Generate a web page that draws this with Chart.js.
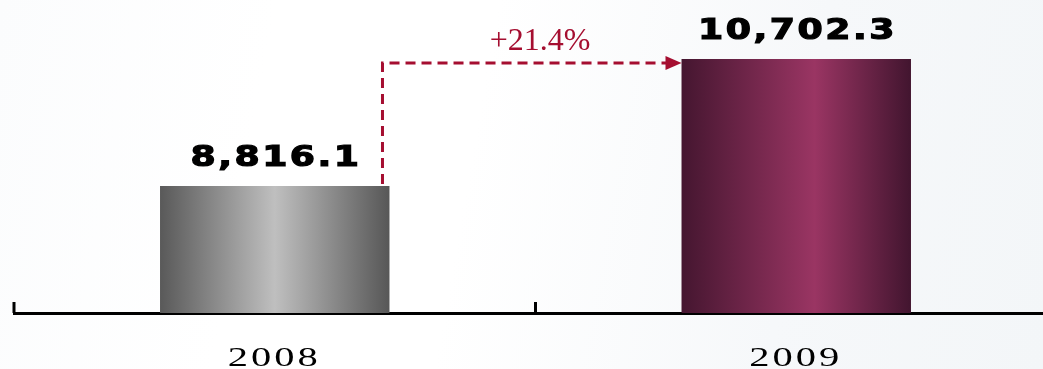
<!DOCTYPE html>
<html>
<head>
<meta charset="utf-8">
<script src="https://cdn.jsdelivr.net/npm/chart.js@4.4.1/dist/chart.umd.min.js"></script>
<style>
  html, body { margin: 0; padding: 0; overflow: hidden; }
  body {
    width: 1043px; height: 369px;
    background: linear-gradient(100deg, #fbfcfd 0%, #ffffff 25%, #ffffff 45%, #f6f8fa 75%, #f3f6f8 100%);
  }
  #wrap { position: relative; width: 1057px; height: 369px; }
</style>
</head>
<body>
<div id="wrap"><canvas id="grafico"></canvas></div>
<script>
// Valores por ano
const anos = ['2008', '2009'];
const valores = [8816.1, 10702.3];
// Limites do eixo Y (o eixo não começa em zero)
const yMin = 6930;
const yMax = 11580;

const corSeta = '#a50e30';

function gradienteBarra(ctx, x0, x1, stops) {
    const g = ctx.createLinearGradient(x0, 0, x1, 0);
    stops.forEach(s => g.addColorStop(s[0], s[1]));
    return g;
}

const stopsCinza = [[0, '#595959'], [0.5, '#bfbfbf'], [1, '#575757']];
const stopsVinho = [[0, '#451630'], [0.58, '#9a3563'], [1, '#42152f']];

function corBarra(context) {
    const chart = context.chart;
    if (!chart.chartArea || !chart.scales.x) return '#999';
    const escala = chart.scales.x;
    const larg = (escala.width / anos.length) * 0.44;
    const cx = escala.getPixelForValue(context.dataIndex);
    const stops = context.dataIndex === 0 ? stopsCinza : stopsVinho;
    return gradienteBarra(chart.ctx, cx - larg / 2, cx + larg / 2, stops);
}

const fmt = v => v.toLocaleString('en-US', { minimumFractionDigits: 1, maximumFractionDigits: 1 });

// Texto com espaçamento entre letras, centrado em cx
function textoEspacado(ctx, txt, cx, y, espaco, escalaX, contorno) {
    ctx.save();
    ctx.letterSpacing = espaco + 'px';
    const w = (ctx.measureText(txt).width - espaco) * escalaX;
    ctx.translate(cx - w / 2, y);
    ctx.scale(escalaX, 1);
    ctx.textAlign = 'left';
    ctx.fillText(txt, 0, 0);
    if (contorno) {
        ctx.lineWidth = contorno;
        ctx.strokeStyle = ctx.fillStyle;
        ctx.strokeText(txt, 0, 0);
    }
    ctx.restore();
}

const pluginAnotacoes = {
    id: 'anotacoes',
    afterDatasetsDraw(chart) {
        const ctx = chart.ctx;
        const [b1, b2] = chart.getDatasetMeta(0).data;

        // Rótulos de valor sobre as barras
        ctx.save();
        ctx.fillStyle = '#000';
        ctx.font = 'bold 29px "DejaVu Sans"';
        ctx.textBaseline = 'alphabetic';
        chart.getDatasetMeta(0).data.forEach((bar, i) => {
            textoEspacado(ctx, fmt(valores[i]), bar.x, bar.y - 20, 2, 1.25, 1.2);
        });
        ctx.restore();

        // Seta tracejada com a variação
        const xv = b1.x + b1.width / 2 - 7;
        const yh = b2.y + 4;
        const xf = b2.x - b2.width / 2;
        ctx.save();
        ctx.strokeStyle = corSeta;
        ctx.lineWidth = 3;
        ctx.setLineDash([10, 6]);
        ctx.beginPath();
        ctx.moveTo(xv, b1.y - 2);
        ctx.lineTo(xv, yh);
        ctx.lineTo(xf - 14, yh);
        ctx.stroke();
        ctx.setLineDash([]);
        ctx.fillStyle = corSeta;
        ctx.beginPath();
        ctx.moveTo(xf - 16, yh - 7);
        ctx.lineTo(xf, yh);
        ctx.lineTo(xf - 16, yh + 7);
        ctx.closePath();
        ctx.fill();

        const pct = ((valores[1] / valores[0]) - 1) * 100;
        ctx.font = '32px "Liberation Serif"';
        ctx.textAlign = 'center';
        ctx.fillText('+' + pct.toFixed(1) + '%', (xv + xf) / 2 + 8, yh - 13);
        ctx.restore();
    },
    afterDraw(chart) {
        const ctx = chart.ctx;
        const escala = chart.scales.x;
        const base = chart.chartArea.bottom;

        // Marcas do eixo X entre categorias
        ctx.save();
        ctx.strokeStyle = '#000';
        ctx.lineWidth = 3;
        const limites = [chart.chartArea.left];
        for (let i = 1; i < anos.length; i++) {
            limites.push((escala.getPixelForValue(i - 1) + escala.getPixelForValue(i)) / 2);
        }
        limites.forEach(x => {
            ctx.beginPath();
            ctx.moveTo(x, base - 11);
            ctx.lineTo(x, base);
            ctx.stroke();
        });

        // Rótulos dos anos
        ctx.fillStyle = '#000';
        ctx.font = '27px "Liberation Serif"';
        ctx.textBaseline = 'alphabetic';
        anos.forEach((a, i) => {
            textoEspacado(ctx, a, escala.getPixelForValue(i) - 2, base + 53, 2, 1.5);
        });
        ctx.restore();
    }
};

new Chart(document.getElementById('grafico').getContext('2d'), {
    type: 'bar',
    data: {
        labels: anos,
        datasets: [{ data: valores, backgroundColor: corBarra, borderWidth: 0, barPercentage: 0.44, categoryPercentage: 1 }]
    },
    options: {
        responsive: true,
        maintainAspectRatio: false,
        animation: false,
        layout: { padding: { left: 14, right: 0, top: 0, bottom: 0 } },
        plugins: { legend: { display: false }, tooltip: { enabled: false } },
        scales: {
            x: {
                grid: { display: false },
                ticks: { display: false },
                border: { display: true, color: '#000', width: 3 },
                afterFit: s => { s.height = 56; }
            },
            y: { display: false, min: yMin, max: yMax }
        }
    },
    plugins: [pluginAnotacoes]
});
</script>
</body>
</html>
